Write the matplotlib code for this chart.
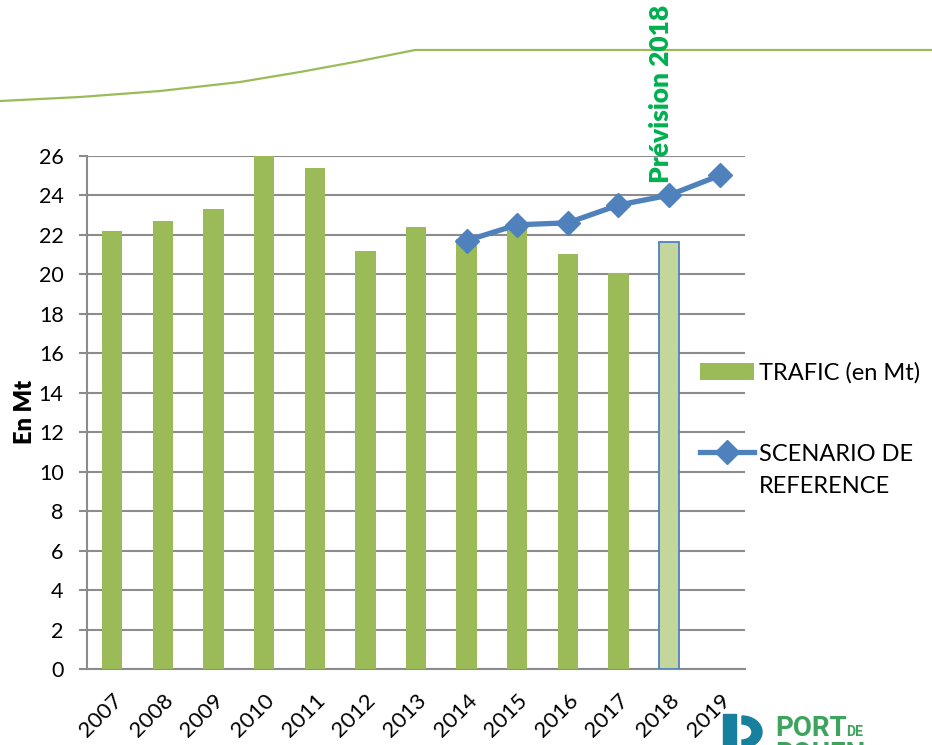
import matplotlib
matplotlib.use("Agg")
import matplotlib.pyplot as plt
from matplotlib.lines import Line2D
from matplotlib.patches import Patch, Rectangle, Wedge
from matplotlib.legend_handler import HandlerLine2D
import numpy as np

plt.rcParams['font.family'] = ['Lato', 'DejaVu Sans']

years = ["2007", "2008", "2009", "2010", "2011", "2012", "2013",
         "2014", "2015", "2016", "2017", "2018", "2019"]
trafic = [22.2, 22.7, 23.3, 26.0, 25.4, 21.15, 22.4, 21.8, 22.4, 21.0, 20.05, 21.65, None]
scenario_years = ["2014", "2015", "2016", "2017", "2018", "2019"]
scenario = [21.7, 22.5, 22.6, 23.5, 24.0, 25.0]
yticks = [0, 2, 4, 6, 8, 10, 12, 14, 16, 18, 20, 22, 24, 26]

W, H = 932, 745
fig = plt.figure(figsize=(W / 100, H / 100), dpi=100)
fig.patch.set_facecolor("white")

ax = fig.add_axes([87 / W, 1 - 669 / H, (745 - 87) / W, (669 - 155.7) / H])

x = np.arange(len(years))
green = "#9BBB59"
light = "#C3D69B"
blue = "#4F81BD"
grid_c = "#8C8C8C"

for i, v in enumerate(trafic):
    if v is None:
        continue
    if years[i] == "2018":
        ax.bar(x[i], v, width=0.4, color=light, edgecolor=blue, linewidth=1.3, zorder=3)
    else:
        ax.bar(x[i], v, width=0.4, color=green, edgecolor="none", zorder=3)

sx = [years.index(y) for y in scenario_years]
ax.plot(sx, scenario, color=blue, lw=3.8, marker="D", markersize=12,
        markerfacecolor=blue, markeredgecolor=blue, zorder=4, solid_capstyle="round")

ax.set_xlim(-0.5, len(years) - 0.5)
ax.set_ylim(0, 26)
ax.set_yticks(yticks)
ax.set_yticklabels([str(t) for t in yticks], fontsize=15.5)
ax.set_xticks(x)
ax.set_xticklabels(years, fontsize=16, rotation=45, ha="right", rotation_mode="anchor")
ax.tick_params(axis="x", length=0, pad=15)
ax.tick_params(axis="y", length=5.8, width=1.5, color=grid_c, pad=11)
ax.yaxis.grid(True, color=grid_c, linewidth=1.5, zorder=0)
ax.set_axisbelow(True)
for s in ["top", "right"]:
    ax.spines[s].set_visible(False)
for s in ["left", "bottom"]:
    ax.spines[s].set_color(grid_c)
    ax.spines[s].set_linewidth(1.5)
    ax.spines[s].set_zorder(1)

fig.text(25 / W, 1 - 412 / H, "En Mt", rotation=90, fontsize=17, fontweight="heavy",
         ha="center", va="center")


class UpLineHandler(HandlerLine2D):
    """Align the line handle with the first line of a two-line label."""
    def create_artists(self, legend, orig_handle, xdescent, ydescent,
                       width, height, fontsize, trans):
        arts = super().create_artists(legend, orig_handle, xdescent, ydescent,
                                      width, height, fontsize, trans)
        for a in arts:
            yd = np.asarray(a.get_ydata(), dtype=float)
            a.set_ydata(yd + 0.78 * fontsize)
        return arts


h1 = Patch(facecolor=green, edgecolor="none")
h2 = Line2D([0], [0], color=blue, lw=3.8, marker="D", markersize=12)
leg = fig.legend([h1, h2], ["TRAFIC (en Mt)", "SCENARIO DE\nREFERENCE"],
                 loc="upper left", bbox_to_anchor=(700 / W, 1 - 362 / H),
                 frameon=False, fontsize=17, handlelength=2.3, handletextpad=0.2,
                 labelspacing=2.55, numpoints=1, borderaxespad=0, borderpad=0,
                 handler_map={h2: UpLineHandler()})
for t in leg.get_texts():
    t.set_linespacing(1.65)

# "Prévision 2018"
fig.text(661 / W, 1 - 183 / H, "Prévision 2018", rotation=90, fontsize=19,
         fontweight="heavy", color="#00B050", ha="center", va="bottom")

# decorative top curve
cx = [0, 80, 160, 240, 300, 360, 415, 932]
cy = [101, 97, 91, 82, 72, 61, 50, 50]
fig.add_artist(Line2D([c / W for c in cx], [1 - c / H for c in cy],
                      color=green, lw=1.6, transform=fig.transFigure))

# logo
teal = "#17809E"
fig.add_artist(Rectangle((723 / W, 0), 13 / W, (745 - 714) / H, color=teal,
                         transform=fig.transFigure))
fig.add_artist(Wedge((742 / W, 1 - 732 / H), 20 / W, -90, 90, width=10 / W,
                     color=teal, transform=fig.transFigure))
logo_green = "#3DA35D"
fig.text(775 / W, 1 - 736 / H, "PORT", fontsize=20, fontweight="bold",
         family="Roboto", color=logo_green, ha="left", va="baseline")
fig.text(846 / W, 1 - 736 / H, "DE", fontsize=10, fontweight="bold",
         family="Roboto", color=logo_green, ha="left", va="baseline")
fig.text(775 / W, 1 - 762 / H, "ROUEN", fontsize=20, fontweight="bold",
         family="Roboto", color=logo_green, ha="left", va="baseline")

fig.savefig("out.png", dpi=100)
